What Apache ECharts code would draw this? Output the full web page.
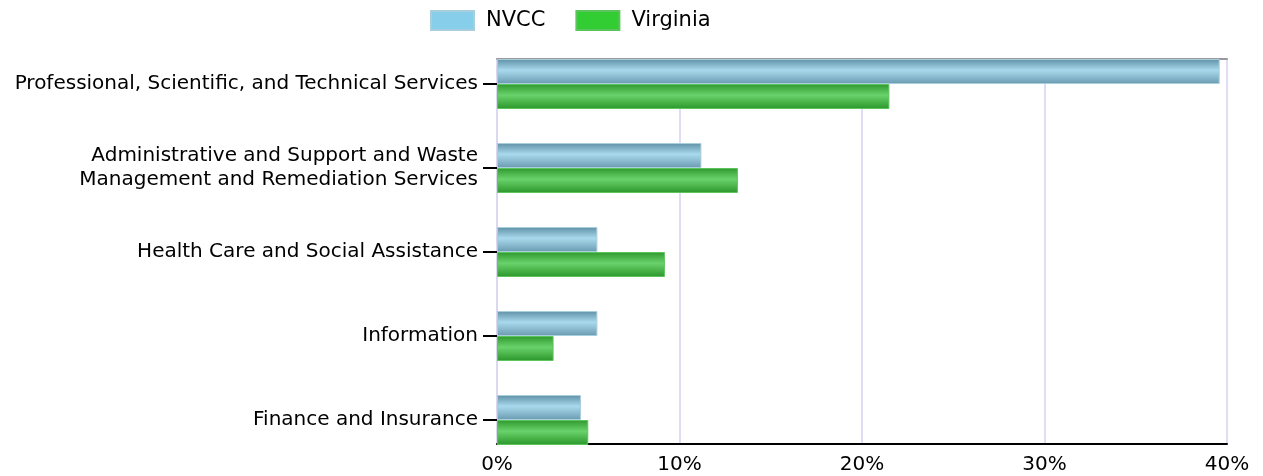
<!DOCTYPE html>
<html>
<head>
<meta charset="utf-8">
<script src="https://cdn.jsdelivr.net/npm/echarts@6/dist/echarts.min.js"></script>
<style>
  html, body { margin: 0; padding: 0; background: #fff; }
  #chart { width: 1263px; height: 476px; }
</style>
</head>
<body>
<div id="chart"></div>
<script>
// 行业类别（从上到下）
const categories = [
    'Professional, Scientific, and Technical Services',
    'Administrative and Support and Waste\nManagement and Remediation Services',
    'Health Care and Social Assistance',
    'Information',
    'Finance and Insurance'
];
// 百分比数值
const nvccValues = [39.6, 11.2, 5.5, 5.5, 4.6];
const virginiaValues = [21.5, 13.2, 9.2, 3.1, 5.0];
const xTicks = [0, 10, 20, 30, 40];

const font = 'DejaVu Sans, Verdana, sans-serif';

function barGradient(edgeTop, mid, edgeBottom) {
    return new echarts.graphic.LinearGradient(0, 0, 0, 1, [
        { offset: 0, color: edgeTop },
        { offset: 0.45, color: mid },
        { offset: 1, color: edgeBottom }
    ]);
}

const chart = echarts.init(document.getElementById('chart'));

const option = {
    animation: false,
    textStyle: { fontFamily: font },
    legend: {
        top: 10,
        left: 430,
        padding: 0,
        itemWidth: 43,
        itemHeight: 19,
        itemGap: 30,
        icon: 'rect',
        textStyle: { fontSize: 21, color: '#000', fontFamily: font, padding: [0, 0, 0, 7] },
        data: [
            { name: 'NVCC', itemStyle: { color: '#87CEEB' } },
            { name: 'Virginia', itemStyle: { color: '#32CD32' } }
        ]
    },
    grid: [
        // 柱子所在的网格（每个类别 84px）
        { left: 497, right: 36, top: 42, height: 420 },
        // 边框与刻度所在的网格
        { left: 497, right: 36, top: 59, height: 385 }
    ],
    xAxis: [
        { gridIndex: 0, type: 'value', min: 0, max: 40, show: false },
        {
            gridIndex: 1, type: 'value', min: 0, max: 40, interval: 10,
            position: 'bottom',
            axisLine: { show: true, lineStyle: { color: '#000', width: 2 } },
            axisTick: { show: false },
            axisLabel: {
                fontSize: 20, color: '#000', margin: 11, fontFamily: font,
                formatter: v => xTicks.includes(v) ? v + '%' : ''
            },
            splitLine: { show: true, lineStyle: { color: '#e0dcf3', width: 2 } }
        },
        {
            gridIndex: 1, type: 'value', min: 0, max: 40,
            position: 'top',
            axisLine: { show: true, lineStyle: { color: '#999', width: 2 } },
            axisTick: { show: false },
            axisLabel: { show: false },
            splitLine: { show: false }
        }
    ],
    yAxis: [
        {
            gridIndex: 0, type: 'category', inverse: true, data: categories,
            axisLine: { show: false },
            axisTick: { show: true, alignWithLabel: true, length: 14, lineStyle: { color: '#000', width: 2 } },
            axisLabel: { fontSize: 20, color: '#000', margin: 19, lineHeight: 24, align: 'right', fontFamily: font },
            splitLine: { show: false }
        },
        {
            gridIndex: 1, type: 'value', min: 0, max: 1,
            axisLine: { show: true, lineStyle: { color: '#dcd8f0', width: 2 } },
            axisTick: { show: false },
            axisLabel: { show: false },
            splitLine: { show: false }
        }
    ],
    series: [
        {
            name: 'NVCC',
            type: 'bar',
            xAxisIndex: 0,
            yAxisIndex: 0,
            barWidth: 25,
            barGap: '0%',
            data: nvccValues,
            itemStyle: {
                color: barGradient('#5f90a6', '#a9d9ec', '#6a9ab0'),
                borderColor: '#a8cddd',
                borderWidth: 1
            }
        },
        {
            name: 'Virginia',
            type: 'bar',
            xAxisIndex: 0,
            yAxisIndex: 0,
            barWidth: 25,
            barGap: '0%',
            data: virginiaValues,
            itemStyle: {
                color: barGradient('#2e982e', '#6ad26a', '#2a962a'),
                borderColor: '#5cc45c',
                borderWidth: 1
            }
        }
    ]
};

chart.setOption(option);
</script>
</body>
</html>
